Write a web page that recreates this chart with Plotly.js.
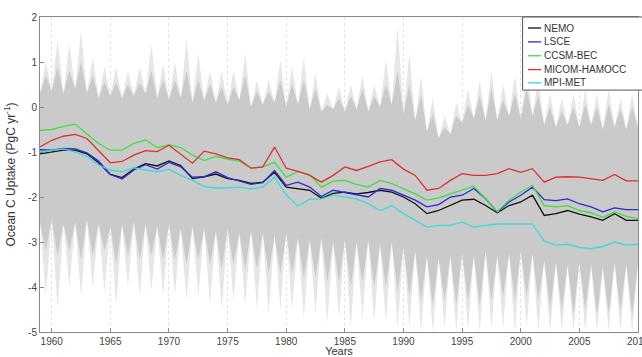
<!DOCTYPE html>
<html>
<head>
<meta charset="utf-8">
<script src="https://cdn.plot.ly/plotly-3.0.1.min.js"></script>
<style>html,body{margin:0;padding:0;background:#fff;overflow:hidden;}#chart{width:642px;height:357px;}</style>
</head>
<body>
<div id="chart"></div>
<script>
const years = [1959,1960,1961,1962,1963,1964,1965,1966,1967,1968,1969,
  1970,1971,1972,1973,1974,1975,1976,1977,1978,1979,
  1980,1981,1982,1983,1984,1985,1986,1987,1988,1989,
  1990,1991,1992,1993,1994,1995,1996,1997,1998,1999,
  2000,2001,2002,2003,2004,2005,2006,2007,2008,2009,2010];

const nemo = [-1.04,-1.00,-0.96,-0.96,-1.04,-1.24,-1.50,-1.57,-1.38,-1.26,-1.31,
  -1.20,-1.30,-1.59,-1.55,-1.49,-1.59,-1.63,-1.70,-1.67,-1.45,
  -1.78,-1.81,-1.85,-2.03,-1.92,-1.89,-1.93,-1.90,-1.85,-1.89,
  -2.00,-2.15,-2.37,-2.30,-2.19,-2.07,-2.05,-2.19,-2.35,-2.19,
  -2.11,-1.96,-2.41,-2.37,-2.30,-2.38,-2.44,-2.52,-2.37,-2.52,-2.52];

const lsce = [-0.95,-0.96,-0.92,-0.93,-1.02,-1.20,-1.50,-1.60,-1.40,-1.28,-1.38,
  -1.23,-1.33,-1.56,-1.55,-1.44,-1.57,-1.65,-1.72,-1.68,-1.41,
  -1.74,-1.67,-1.78,-1.99,-1.85,-1.90,-1.96,-2.00,-1.81,-1.85,
  -1.96,-2.07,-2.22,-2.17,-2.00,-1.96,-1.81,-2.04,-2.33,-2.11,
  -1.96,-1.78,-2.06,-2.08,-2.04,-2.15,-2.22,-2.33,-2.24,-2.28,-2.28];

const ccsm = [-0.52,-0.50,-0.43,-0.38,-0.60,-0.81,-0.96,-0.96,-0.81,-0.73,-0.90,
  -0.84,-0.90,-1.07,-1.19,-1.10,-1.16,-1.20,-1.36,-1.33,-1.23,
  -1.56,-1.43,-1.50,-1.78,-1.65,-1.63,-1.72,-1.78,-1.63,-1.70,
  -1.81,-1.93,-2.07,-2.02,-1.93,-1.85,-1.76,-2.04,-2.33,-2.07,
  -1.89,-1.74,-2.19,-2.22,-2.19,-2.30,-2.35,-2.45,-2.33,-2.43,-2.48];

const micom = [-0.89,-0.74,-0.65,-0.61,-0.70,-0.96,-1.24,-1.21,-1.07,-0.97,-0.99,
  -0.85,-1.05,-1.25,-0.98,-1.04,-1.13,-1.17,-1.36,-1.33,-0.89,
  -1.36,-1.43,-1.52,-1.67,-1.52,-1.33,-1.41,-1.32,-1.22,-1.17,
  -1.38,-1.52,-1.85,-1.81,-1.63,-1.48,-1.52,-1.52,-1.48,-1.37,
  -1.45,-1.37,-1.67,-1.56,-1.55,-1.56,-1.59,-1.63,-1.50,-1.64,-1.64];

const mpi = [-1.00,-0.96,-0.93,-1.00,-1.10,-1.29,-1.40,-1.44,-1.35,-1.40,-1.44,
  -1.38,-1.52,-1.63,-1.77,-1.80,-1.80,-1.78,-1.82,-1.78,-1.56,
  -1.95,-2.20,-2.05,-2.04,-1.96,-2.00,-2.04,-2.15,-2.30,-2.19,
  -2.37,-2.52,-2.67,-2.63,-2.63,-2.56,-2.67,-2.63,-2.60,-2.60,
  -2.60,-2.60,-2.98,-3.07,-3.05,-3.12,-3.15,-3.10,-3.00,-3.07,-3.05];

// grey ensemble envelope, read per year: valleys at the year, spike tips half a year later
const upBase = [0.30,0.35,0.30,0.40,0.30,0.20,0.25,0.20,0.25,0.30,0.20,
  0.15,0.20,0.10,0.15,0.10,0.05,0.15,0.00,0.05,0.10,
  0.00,0.05,-0.05,-0.10,-0.05,-0.10,-0.05,-0.10,0.00,0.05,
  -0.15,-0.30,-0.55,-0.70,-0.60,-0.35,-0.25,-0.30,-0.30,-0.20,
  -0.25,-0.20,-0.40,-0.45,-0.40,-0.45,-0.40,-0.50,-0.45,-0.50,-0.45];
const upInner = [0.70,0.90,0.80,1.00,0.70,0.55,0.55,0.50,0.55,0.80,0.60,
  0.60,0.80,0.60,0.50,0.45,0.45,0.70,0.35,0.35,0.60,
  0.50,0.60,0.40,0.05,0.20,0.25,0.40,0.25,0.50,0.80,
  0.50,0.25,-0.15,-0.45,-0.20,0.05,0.25,0.40,0.15,0.30,
  0.40,0.25,0.00,-0.10,0.00,0.05,0.00,0.05,-0.05,0.00,0.00];
const upOuter = [1.00,1.50,1.40,1.70,1.10,0.90,0.90,0.80,0.90,1.40,0.95,
  1.00,1.50,1.20,0.80,0.80,0.80,1.20,0.60,0.60,1.05,
  0.90,1.10,0.75,0.30,0.45,0.50,0.70,0.50,1.05,1.80,
  1.20,0.70,0.20,-0.20,0.10,0.40,0.60,0.80,0.50,0.70,
  0.90,0.60,0.30,0.20,0.30,0.40,0.30,0.40,0.20,0.30,0.30];
const loBase = [-2.55,-2.50,-2.60,-2.55,-2.50,-2.60,-2.65,-2.60,-2.55,-2.60,-2.65,
  -2.60,-2.70,-2.65,-2.70,-2.75,-2.70,-2.80,-2.75,-2.80,-2.85,
  -2.80,-2.90,-2.95,-2.90,-3.00,-2.95,-3.00,-2.95,-3.05,-3.00,
  -3.10,-3.20,-3.30,-3.35,-3.30,-3.25,-3.30,-3.20,-3.30,-3.25,
  -3.20,-3.25,-3.40,-3.45,-3.50,-3.45,-3.50,-3.55,-3.45,-3.50,-3.50];
const loInner = [-3.20,-3.30,-3.20,-3.40,-3.30,-3.20,-3.50,-3.30,-3.40,-3.30,-3.40,
  -3.40,-3.50,-3.40,-3.50,-3.60,-3.50,-3.60,-3.60,-3.70,-3.70,
  -3.70,-3.80,-3.80,-3.90,-3.90,-4.00,-3.90,-4.00,-4.00,-4.10,
  -4.20,-4.30,-4.40,-4.30,-4.40,-4.30,-4.40,-4.30,-4.20,-4.30,
  -4.20,-4.30,-4.50,-4.50,-4.60,-4.50,-4.60,-4.60,-4.50,-4.60,-4.60];
const loOuter = [-4.20,-4.50,-4.00,-4.20,-4.00,-4.10,-4.40,-4.00,-4.20,-4.10,-4.20,
  -4.20,-4.30,-4.20,-4.40,-4.50,-4.30,-4.40,-4.50,-4.60,-4.50,
  -4.50,-4.70,-4.60,-4.80,-4.70,-4.90,-4.70,-4.80,-4.80,-4.90,
  -4.90,-5.00,-5.00,-4.90,-5.00,-4.95,-5.00,-4.90,-4.90,-5.00,
  -4.90,-5.00,-5.00,-5.00,-5.00,-5.00,-5.00,-5.00,-5.00,-5.00,-5.00];

const xTicks = [1960,1965,1970,1975,1980,1985,1990,1995,2000,2005,2010];
const yTicks = [2,1,0,-1,-2,-3,-4,-5];

const seriesNames = ['NEMO','LSCE','CCSM-BEC','MICOM-HAMOCC','MPI-MET'];
const seriesValues = [nemo, lsce, ccsm, micom, mpi];
const seriesColors = ['#111111','#2a2ad8','#3ee03e','#e03030','#3cdada'];

function spiky(base, tip) {
  const xs = [], ys = [];
  years.forEach((yr, i) => {
    xs.push(yr); ys.push(base[i]);
    xs.push(yr + 0.5); ys.push(tip[i]);
  });
  return {xs, ys};
}

function band(lower, upper, color) {
  return [
    {x: lower.xs, y: lower.ys, type: 'scatter', mode: 'lines', line: {width: 0, color: color},
     showlegend: false, hoverinfo: 'skip'},
    {x: upper.xs, y: upper.ys, type: 'scatter', mode: 'lines', line: {width: 0, color: color},
     fill: 'tonexty', fillcolor: color, showlegend: false, hoverinfo: 'skip'}
  ];
}

const traces = [];
traces.push(...band(spiky(loBase, loOuter), spiky(upBase, upOuter), '#e6e6e6'));
traces.push(...band(spiky(loBase, loInner), spiky(upBase, upInner), '#cacaca'));

seriesNames.forEach((name, k) => traces.push({
  x: years, y: seriesValues[k], name: name, type: 'scatter', mode: 'lines',
  line: {color: seriesColors[k], width: 1.3}, showlegend: false
}));

// legend box drawn in paper coordinates (entries ~14 px apart as in the original)
const legTop = 1.0, legBottom = 0.768, legLeft = 0.807, legRight = 1.02;
const entryY = [0.965, 0.921, 0.877, 0.833, 0.791];
const shapes = [{type: 'rect', xref: 'paper', yref: 'paper', x0: legLeft, x1: legRight,
  y0: legBottom, y1: legTop, fillcolor: '#ffffff', line: {color: '#555', width: 1}, layer: 'above'}];
const annotations = [];
seriesNames.forEach((name, k) => {
  shapes.push({type: 'line', xref: 'paper', yref: 'paper', x0: 0.816, x1: 0.838,
    y0: entryY[k], y1: entryY[k], line: {color: seriesColors[k], width: 1.3}, layer: 'above'});
  annotations.push({xref: 'paper', yref: 'paper', x: 0.840, y: entryY[k], xanchor: 'left',
    yanchor: 'middle', text: name, showarrow: false, font: {size: 10, color: '#333'}});
});

const layout = {
  width: 642, height: 357,
  margin: {l: 40, r: 4, t: 17, b: 25},
  paper_bgcolor: '#ffffff', plot_bgcolor: '#ffffff',
  font: {family: 'Liberation Sans, Arial, sans-serif', size: 10, color: '#333'},
  xaxis: {
    range: [1959, 2010], tickvals: xTicks, ticktext: xTicks.map(String),
    showgrid: true, gridcolor: '#e2e2e2', griddash: 'dot', gridwidth: 1,
    zeroline: false, showline: true, linecolor: '#8a8a8a', mirror: true,
    ticks: 'inside', ticklen: 4, tickcolor: '#8a8a8a',
    ticklabeloverflow: 'allow',
    tickfont: {size: 10, color: '#444'},
    title: {text: 'Years', font: {size: 11, color: '#333'}, standoff: 0}
  },
  yaxis: {
    range: [-5, 2], tickvals: yTicks, ticktext: yTicks.map(String),
    showgrid: false, zeroline: false, showline: true, linecolor: '#8a8a8a', mirror: true,
    ticks: 'inside', ticklen: 4, tickcolor: '#8a8a8a',
    tickfont: {size: 10, color: '#444'},
    title: {text: 'Ocean C Uptake (PgC yr<sup>-1</sup>)', font: {size: 12, color: '#333'}, standoff: 9}
  },
  shapes: shapes,
  annotations: annotations,
  showlegend: false
};

Plotly.newPlot('chart', traces, layout, {displayModeBar: false, staticPlot: true});
</script>
</body>
</html>
